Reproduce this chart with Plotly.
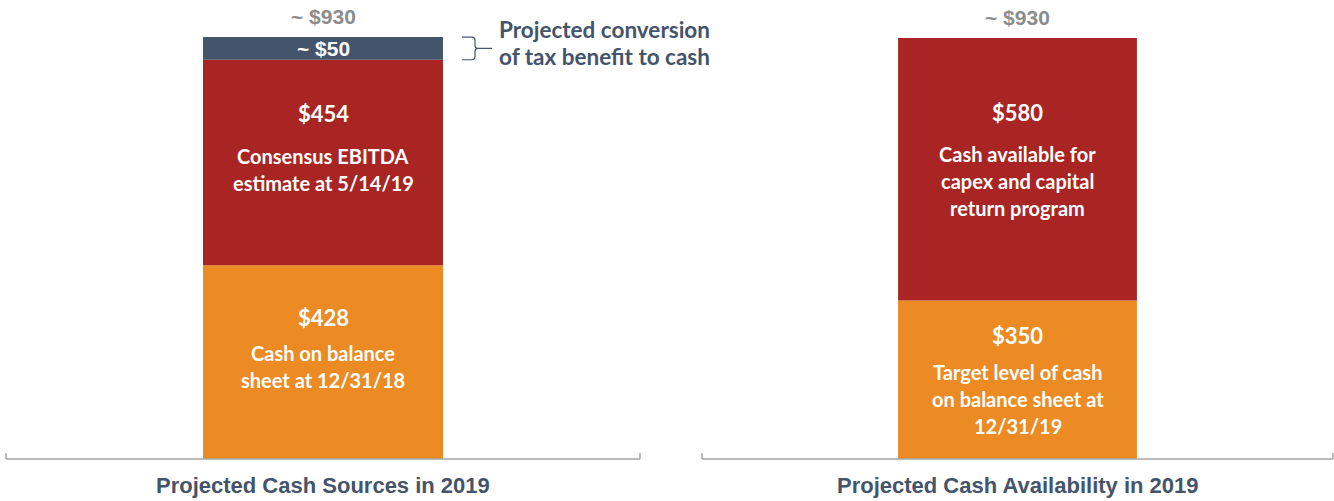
import plotly.graph_objects as go

# ---- data -------------------------------------------------------------
categories = ["Projected Cash Sources in 2019", "Projected Cash Availability in 2019"]
total_labels = ["~ $930", "~ $930"]

# left bar (bottom -> top)
sources_values = [428, 454, 50]
sources_labels = ["$428", "$454", "~ $50"]
sources_desc = [["Cash on balance", "sheet at 12/31/18"],
                ["Consensus EBITDA", "estimate at 5/14/19"],
                []]

# right bar (bottom -> top)
uses_values = [350, 580]
uses_labels = ["$350", "$580"]
uses_desc = [["Target level of cash", "on balance sheet at", "12/31/19"],
             ["Cash available for", "capex and capital", "return program"]]

side_note = ["Projected conversion", "of tax benefit to cash"]

# ---- styling ----------------------------------------------------------
ORANGE = "#EC8A23"
RED = "#A82524"
SLATE = "#44546A"
GREY_TXT = "#8C8C8C"
AXIS_GREY = "#A6A6A6"
sources_colors = [ORANGE, RED, SLATE]
uses_colors = [ORANGE, RED]
# per-segment text block tweaks: vertical nudge and gap below the value line (px)
sources_nudge = [-13.5, -14.5, 0]
sources_gap = [36, 43, 0]
uses_nudge = [1, -9]
uses_gap = [36.5, 42]

W, H = 1334, 501
M_B = 42
Y_MAX = 1014
PLOT_H = H - M_B
PX = PLOT_H / Y_MAX          # pixels per unit
BAR_W = 0.3785
X_DOM1 = [6 / W, 640 / W]
X_DOM2 = [702 / W, 1333 / W]

LBL_FONT = "Lato, 'Open Sans', sans-serif"
ARIAL = "'Liberation Sans', Arial, sans-serif"

fig = go.Figure()
annotations = []


def stack(values, colors, labels, descs, nudges, gaps, xa, ya):
    base = 0
    for v, c, lab, desc, nud, gap in zip(values, colors, labels, descs, nudges, gaps):
        fig.add_trace(go.Bar(
            x=[0.5], y=[v], base=[base], width=BAR_W,
            marker=dict(color=c, line=dict(width=0)),
            xaxis=xa, yaxis=ya, hoverinfo="skip", showlegend=False))
        mid = base + v / 2
        if desc:
            # value line, then description lines; block centred on the segment
            offs = [0, gap] + [gap + 27 * i for i in range(1, len(desc))]
            centre = (offs[0] + offs[-1]) / 2
            texts = [lab] + desc
            for i, (t, o) in enumerate(zip(texts, offs)):
                annotations.append(dict(
                    x=0.5, y=mid, xref=xa, yref=ya, text=t, showarrow=False,
                    yshift=-(o - centre) - nud,
                    xanchor="center", yanchor="middle",
                    font=dict(family=LBL_FONT, size=22 if i == 0 else 20,
                              color="white", weight="bold")))
        else:
            annotations.append(dict(
                x=0.5, y=mid, xref=xa, yref=ya, text=lab, showarrow=False,
                xanchor="center", yanchor="middle",
                font=dict(family=ARIAL, size=21, color="white", weight="bold")))
        base += v
    return base


top1 = stack(sources_values, sources_colors, sources_labels, sources_desc,
             sources_nudge, sources_gap, "x", "y")
top2 = stack(uses_values, uses_colors, uses_labels, uses_desc,
             uses_nudge, uses_gap, "x2", "y2")

# totals above the bars
for xa, ya, top, lab in [("x", "y", top1, total_labels[0]),
                         ("x2", "y2", top2, total_labels[1])]:
    annotations.append(dict(
        x=0.5, y=top, xref=xa, yref=ya, text=lab, showarrow=False,
        yshift=21, xanchor="center", yanchor="middle",
        font=dict(family=ARIAL, size=21, color=GREY_TXT, weight="bold")))

# category titles under the baselines
for dom, cat in [(X_DOM1, categories[0]), (X_DOM2, categories[1])]:
    annotations.append(dict(
        x=(dom[0] + dom[1]) / 2, y=-26 / PLOT_H, xref="paper", yref="paper",
        text=cat, showarrow=False, xanchor="center", yanchor="middle",
        font=dict(family=ARIAL, size=22, color=SLATE, weight="bold")))

# brace + note next to the top segment of the left bar
seg_lo = sum(sources_values[:-1])
seg_hi = sum(sources_values)
seg_mid = (seg_lo + seg_hi) / 2
ax_w = (X_DOM1[1] - X_DOM1[0]) * W
def xd(px):
    return (px - X_DOM1[0] * W) / ax_w

x0, xm, x1 = xd(462), xd(475), xd(492)
r = 3 / PX
rx = 3 / ax_w
brace = (f"M {x0},{seg_hi} L {xm - rx},{seg_hi} Q {xm},{seg_hi} {xm},{seg_hi - r} "
         f"L {xm},{seg_mid + r} Q {xm},{seg_mid} {xm + rx},{seg_mid} L {x1},{seg_mid} "
         f"M {xm + rx},{seg_mid} Q {xm},{seg_mid} {xm},{seg_mid - r} "
         f"L {xm},{seg_lo + r} Q {xm},{seg_lo} {xm - rx},{seg_lo} L {x0},{seg_lo}")
shapes = [dict(type="path", path=brace, xref="x", yref="y",
               line=dict(color=SLATE, width=1.2))]

for i, t in enumerate(side_note):
    annotations.append(dict(
        x=xd(497), y=seg_mid, xref="x", yref="y", text=t, showarrow=False,
        yshift=18 - 27 * i + 0.5, xanchor="left", yanchor="middle",
        font=dict(family=LBL_FONT, size=22.5, color=SLATE, weight="bold")))

# baselines with small end ticks
for dom in (X_DOM1, X_DOM2):
    shapes.append(dict(type="line", xref="paper", yref="paper",
                       x0=dom[0], x1=dom[1], y0=0, y1=0,
                       line=dict(color=AXIS_GREY, width=1.5)))
    for xe in dom:
        shapes.append(dict(type="line", xref="paper", yref="paper",
                           x0=xe, x1=xe, y0=0, y1=6 / PLOT_H,
                           line=dict(color=AXIS_GREY, width=1.5)))

axis_off = dict(showgrid=False, zeroline=False, showticklabels=False,
                ticks="", showline=False)
fig.update_layout(
    width=W, height=H,
    margin=dict(l=0, r=0, t=0, b=M_B),
    paper_bgcolor="white", plot_bgcolor="white",
    barmode="overlay",
    xaxis=dict(domain=X_DOM1, range=[0, 1], fixedrange=True, **axis_off),
    xaxis2=dict(domain=X_DOM2, range=[0, 1], fixedrange=True, **axis_off),
    yaxis=dict(range=[0, Y_MAX], anchor="x", **axis_off),
    yaxis2=dict(range=[0, Y_MAX], anchor="x2", **axis_off),
    annotations=annotations,
    shapes=shapes,
    showlegend=False,
)

fig.write_html("out.html")
